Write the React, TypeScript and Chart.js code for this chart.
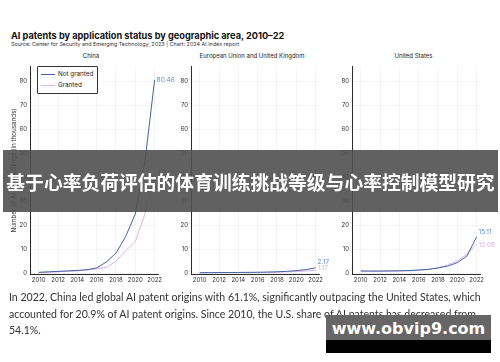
import React, { useEffect, useRef } from "react";
import { Chart, registerables } from "chart.js";
Chart.register(...registerables);

const years = [2010, 2011, 2012, 2013, 2014, 2015, 2016, 2017, 2018, 2019, 2020, 2021, 2022];
const chinaNotGranted = [0.3, 0.5, 0.7, 0.9, 1.1, 1.4, 2.1, 4.6, 8.3, 15.2, 24.6, 46.5, 80.46];
const chinaGranted = [0.2, 0.3, 0.5, 0.7, 0.9, 1.2, 1.8, 2.4, 4.9, 9.3, 13.1, 24.6, 41.5];
const euNotGranted = [0.15, 0.17, 0.2, 0.22, 0.25, 0.28, 0.32, 0.4, 0.52, 0.7, 1.0, 1.45, 2.17];
const euGranted = [0.1, 0.11, 0.13, 0.15, 0.17, 0.19, 0.22, 0.27, 0.34, 0.45, 0.62, 0.85, 1.17];
const usNotGranted = [0.9, 0.85, 0.85, 0.9, 0.95, 1.05, 1.25, 1.55, 2.1, 2.9, 4.3, 7.1, 15.11];
const usGranted = [0.6, 0.6, 0.65, 0.7, 0.8, 0.95, 1.15, 1.5, 2.2, 3.4, 5.0, 7.9, 12.08];
const xTickValues = [2010, 2012, 2014, 2016, 2018, 2020, 2022];
const yTickValues = [0, 10, 20, 30, 40, 50, 60, 70, 80];
const seriesNames = ["Not granted", "Granted"];
const panelTitles = ["China", "European Union and United Kingdom", "United States"];

const BLUE = "#41649c";
const BLUE_LABEL = "#5f8fd0";
const PINK = "#e2b0ec";
const PINK_LABEL = "#dfb0ea";
const TICK_FONT = { family: "Inter, 'DejaVu Sans', sans-serif", size: 6 };

type PanelProps = {
  left: number;
  width: number;
  yWidth: number;
  padRight: number;
  yTitle?: string;
  notGranted: number[];
  granted: number[];
  dys: number[];
};

const endLabels = {
  id: "endLabels",
  afterDatasetsDraw(chart: any, _args: any, opts: any) {
    const ctx = chart.ctx;
    ctx.save();
    chart.data.datasets.forEach((ds: any, i: number) => {
      const meta = chart.getDatasetMeta(i);
      const pt = meta.data[meta.data.length - 1];
      const v = ds.data[ds.data.length - 1].y;
      ctx.font = "6.5px Inter, 'DejaVu Sans', sans-serif";
      ctx.fillStyle = i === 0 ? BLUE_LABEL : PINK_LABEL;
      ctx.textAlign = "left";
      ctx.textBaseline = "middle";
      ctx.fillText(v.toFixed(2), pt.x + 2, pt.y + (opts.dys[i] || 0));
    });
    ctx.restore();
  },
};

function Panel(p: PanelProps) {
  const ref = useRef<HTMLCanvasElement>(null);
  useEffect(() => {
    const toPts = (arr: number[]) => years.map((x, i) => ({ x, y: arr[i] }));
    const chart = new Chart(ref.current as HTMLCanvasElement, {
      type: "line",
      data: {
        datasets: [
          { label: seriesNames[0], data: toPts(p.notGranted), borderColor: BLUE, borderWidth: 1, pointRadius: 0, tension: 0 },
          { label: seriesNames[1], data: toPts(p.granted), borderColor: PINK, borderWidth: 1, pointRadius: 0, tension: 0 },
        ],
      },
      options: {
        animation: false,
        responsive: false,
        devicePixelRatio: 1,
        layout: { padding: { top: 2, right: p.padRight, left: 0, bottom: 0 } },
        plugins: { legend: { display: false }, tooltip: { enabled: false }, endLabels: { dys: p.dys } } as any,
        scales: {
          x: {
            type: "linear",
            min: 2009.1,
            max: 2022.35,
            afterBuildTicks: (s: any) => { s.ticks = xTickValues.map((v) => ({ value: v })); },
            afterFit: (s: any) => { s.height = 16; },
            grid: { color: "#ececec", lineWidth: 0.6, drawTicks: false },
            border: { display: true, color: "#2b2b2b", width: 1 },
            ticks: { font: TICK_FONT, color: "#333", padding: 3, maxRotation: 0, callback: (v: any) => String(v) },
          },
          y: {
            type: "linear",
            min: -0.4,
            max: 86,
            afterBuildTicks: (s: any) => { s.ticks = yTickValues.map((v) => ({ value: v })); },
            afterFit: (s: any) => { s.width = p.yWidth; },
            grid: { color: "#ececec", lineWidth: 0.6, drawTicks: false },
            border: { display: true, color: "#2b2b2b", width: 1 },
            ticks: { font: TICK_FONT, color: "#333", padding: 3 },
            title: p.yTitle
              ? { display: true, text: p.yTitle, font: { family: "Inter, 'DejaVu Sans', sans-serif", size: 6.3 }, color: "#333", padding: { top: 10.5, bottom: 0 } }
              : { display: false },
          },
        },
      },
      plugins: [endLabels],
    } as any);
    return () => chart.destroy();
  }, []);
  return (
    <canvas
      ref={ref}
      width={p.width}
      height={230}
      style={{ position: "absolute", left: p.left, top: 60, width: p.width, height: 230 }}
    />
  );
}

export default function App() {
  const sans = "Inter, 'DejaVu Sans', sans-serif";
  return (
    <div style={{ position: "absolute", left: 0, top: 0, width: 500, height: 362, background: "#fff", overflow: "hidden", fontFamily: sans }}>
      <div style={{ position: "absolute", left: 11, top: 30, fontSize: 9.2, fontWeight: 700, color: "#111", whiteSpace: "nowrap" }}>
        AI patents by application status by geographic area, 2010–22
      </div>
      <div style={{ position: "absolute", left: 11, top: 41, fontSize: 5.4, color: "#333", whiteSpace: "nowrap" }}>
        Source: Center for Security and Emerging Technology, 2023 | Chart: 2024 AI Index report
      </div>
      {[91, 252, 413.5].map((cx, i) => (
        <div key={i} style={{ position: "absolute", left: cx - 100, width: 200, top: 52, textAlign: "center", fontSize: 6, color: "#222", whiteSpace: "nowrap" }}>
          {panelTitles[i]}
        </div>
      ))}
      <Panel left={0} width={180} yWidth={30} padRight={22} yTitle="Number of AI patent filings (in thousands)" notGranted={chinaNotGranted} granted={chinaGranted} dys={[0.5, 0]} />
      <Panel left={170} width={171} yWidth={21} padRight={22} notGranted={euNotGranted} granted={euGranted} dys={[-5.5, -2]} />
      <Panel left={331} width={169} yWidth={21} padRight={20} notGranted={usNotGranted} granted={usGranted} dys={[-4.5, 1]} />
      <div style={{ position: "absolute", left: 37, top: 66, width: 59, height: 26, border: "1px solid #333", background: "#fff", borderRadius: 1 }}>
        <div style={{ position: "absolute", left: 3, top: 7, width: 14, height: 1, background: BLUE }} />
        <div style={{ position: "absolute", left: 20, top: 3, fontSize: 6.3, color: "#222", whiteSpace: "nowrap" }}>{seriesNames[0]}</div>
        <div style={{ position: "absolute", left: 3, top: 18, width: 14, height: 1, background: PINK }} />
        <div style={{ position: "absolute", left: 20, top: 14, fontSize: 6.3, color: "#222", whiteSpace: "nowrap" }}>{seriesNames[1]}</div>
      </div>
      <div style={{ position: "absolute", left: 9, top: 289, fontFamily: "Lato, 'Open Sans', sans-serif", fontSize: 12, lineHeight: "16.5px", color: "#333", whiteSpace: "nowrap", transform: "scaleX(0.879)", transformOrigin: "0 0" }}>
        In 2022, China led global AI patent origins with 61.1%, significantly outpacing the United States, which<br />
        accounted for 20.9% of AI patent origins. Since 2010, the U.S. share of AI patents has decreased from<br />
        54.1%.
      </div>
      <div style={{ position: "absolute", left: 3, top: 150, width: 495, height: 62, background: "rgba(80,80,80,0.9)", display: "flex", alignItems: "center", justifyContent: "center" }}>
        <span style={{ fontFamily: "'Noto Sans CJK SC', sans-serif", fontWeight: 700, fontSize: 18.8, color: "#fff", whiteSpace: "nowrap" }}>
          基于心率负荷评估的体育训练挑战等级与心率控制模型研究
        </span>
      </div>
      <div style={{ position: "absolute", left: 326, top: 315, width: 165, height: 38, background: "#000" }}>
        <div style={{ position: "absolute", left: 0, top: 0, width: 165, height: 25, background: "#666" }} />
        <div style={{ position: "absolute", left: 0, top: 4, width: 165, textAlign: "center", fontFamily: "'DejaVu Sans', sans-serif", fontWeight: 700, fontSize: 16, color: "#fff", whiteSpace: "nowrap" }}>
          www.obvip9.com
        </div>
      </div>
    </div>
  );
}
